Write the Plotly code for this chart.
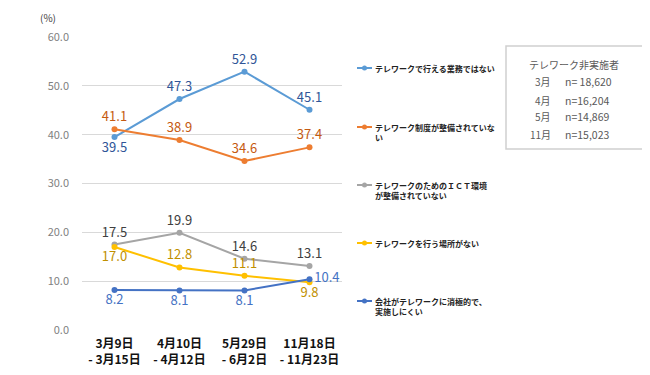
import plotly.graph_objects as go

categories = ["<b>3月9日</b><br><b>- 3月15日</b>", "<b>4月10日</b><br><b>- 4月12日</b>",
              "<b>5月29日</b><br><b>- 6月2日</b>", "<b>11月18日</b><br><b>- 11月23日</b>"]
series_names = [
    "テレワークで行える業務ではない",
    "テレワーク制度が整備されていない",
    "テレワークのためのＩＣＴ環境が整備されていない",
    "テレワークを行う場所がない",
    "会社がテレワークに消極的で、実施しにくい",
]
legend_labels = [
    "テレワークで行える業務ではない",
    "テレワーク制度が整備されていな<br>い",
    "テレワークのためのＩＣＴ環境<br>が整備されていない",
    "テレワークを行う場所がない",
    "会社がテレワークに消極的で、<br>実施しにくい",
]
s1 = [39.5, 47.3, 52.9, 45.1]
s2 = [41.1, 38.9, 34.6, 37.4]
s3 = [17.5, 19.9, 14.6, 13.1]
s4 = [17.0, 12.8, 11.1, 9.8]
s5 = [8.2, 8.1, 8.1, 10.4]
values = [s1, s2, s3, s4, s5]
line_colors = ["#5B9BD5", "#ED7D31", "#A5A5A5", "#FFC000", "#4472C4"]
label_colors = ["#2F5597", "#C55A11", "#404040", "#BF9000", "#4472C4"]
text_positions = [
    ["bottom center", "top center", "top center", "top center"],
    ["top center", "top center", "top center", "top center"],
    ["top center", "top center", "top center", "top center"],
    ["bottom center", "top center", "top center", "bottom center"],
    ["bottom center", "bottom center", "bottom center", "middle right"],
]
y_ticks = [0, 10, 20, 30, 40, 50, 60]
box_title = "テレワーク非実施者"
box_months = ["3月", "4月", "5月", "11月"]
box_counts = ["n= 18,620", "n=16,204", "n=14,869", "n=15,023"]

# reference-pixel helpers (plot area: x 82..342, y 37..330)
def px(x):
    return (x - 82) / 260

def py(y):
    return (330 - y) / 293

fig = go.Figure()
for name, vals, lc, tc, tp in zip(series_names, values, line_colors, label_colors, text_positions):
    fig.add_trace(go.Scatter(
        x=categories, y=vals, mode="lines+markers+text", name=name,
        line=dict(color=lc, width=2), marker=dict(color=lc, size=6),
        text=[f"{v:.1f}" for v in vals], textposition=tp,
        textfont=dict(color=tc, size=13, family="Noto Sans CJK JP"),
        showlegend=False, cliponaxis=False,
    ))

# custom legend
leg_y = [68, 127, 185, 243, 301]
for lbl, lc, yy in zip(legend_labels, line_colors, leg_y):
    fig.add_shape(type="line", xref="paper", yref="paper",
                  x0=px(357), x1=px(372), y0=py(yy), y1=py(yy),
                  line=dict(color=lc, width=2))
    fig.add_shape(type="circle", xref="paper", yref="paper",
                  x0=px(362), x1=px(367), y0=py(yy + 2.5), y1=py(yy - 2.5),
                  fillcolor=lc, line=dict(color=lc, width=0))
    fig.add_annotation(text="<b>" + lbl.replace("<br>", "</b><br><b>") + "</b>",
                       xref="paper", yref="paper",
                       x=px(373), y=py(yy - 7),
                       xanchor="left", yanchor="top", showarrow=False, align="left",
                       font=dict(size=8, color="#222222", family="Noto Sans CJK JP"))

# info box
fig.add_shape(type="rect", xref="paper", yref="paper",
              x0=px(506), x1=px(643), y0=py(149), y1=py(46),
              line=dict(color="#D0D0D0", width=1.5), fillcolor="white")
fig.add_annotation(text=box_title, xref="paper", yref="paper",
                   x=px(574), y=py(64), xanchor="center", yanchor="middle", showarrow=False,
                   font=dict(size=10, color="#595959", family="Noto Sans CJK JP"))
box_y = [82, 100, 117, 134]
for m, c, yy in zip(box_months, box_counts, box_y):
    fig.add_annotation(text=m, xref="paper", yref="paper",
                       x=px(553), y=py(yy), xanchor="right", yanchor="middle", showarrow=False,
                       font=dict(size=10, color="#595959", family="Noto Sans CJK JP"))
    fig.add_annotation(text=c, xref="paper", yref="paper",
                       x=px(563), y=py(yy), xanchor="left", yanchor="middle", showarrow=False,
                       font=dict(size=10.5, color="#595959", family="Noto Sans CJK JP"))

fig.add_annotation(text="(%)", xref="paper", yref="paper", x=px(48), y=py(8),
                   xanchor="center", yanchor="top", showarrow=False,
                   font=dict(size=10, color="#404040", family="Noto Sans CJK JP"))

# page has an 8px body margin; figure spans 8..650 of the window
fig.update_layout(
    width=642, height=367,
    margin=dict(l=74, r=308, t=29, b=45, autoexpand=False),
    plot_bgcolor="white", paper_bgcolor="white",
    font=dict(family="Noto Sans CJK JP"),
)
fig.update_xaxes(range=[-0.5, 3.5], showgrid=False, showline=False, zeroline=False,
                 tickfont=dict(size=12, color="#111111", family="Noto Sans CJK JP"),
                 automargin=False, ticks="", ticklabelstandoff=5)
fig.update_yaxes(range=[0, 60], tickvals=y_ticks, ticktext=[f"{v:.1f}" for v in y_ticks],
                 showgrid=True, gridcolor="#D9D9D9", gridwidth=1, zeroline=False, showline=False,
                 tickfont=dict(size=11, color="#7F7F7F", family="Noto Sans CJK JP"),
                 automargin=False, ticklabelstandoff=12)
fig.write_html("out.html")
